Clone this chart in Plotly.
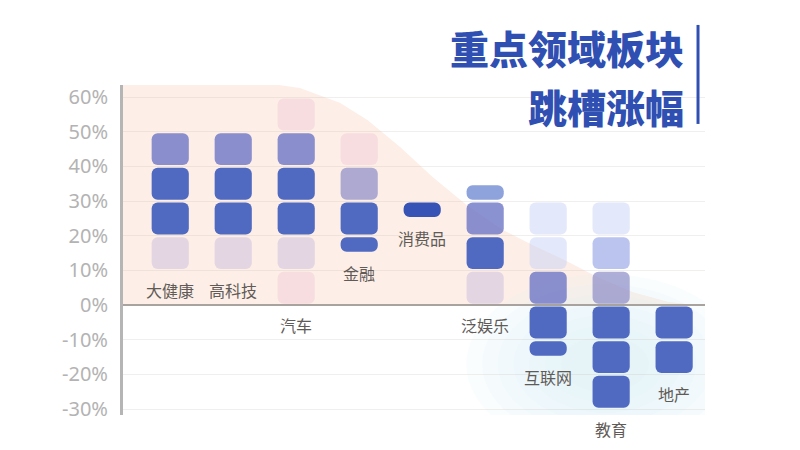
import plotly.graph_objects as go

# categories along the x axis
categories = ['大健康', '高科技', '汽车', '金融', '消费品', '泛娱乐', '互联网', '教育', '地产']

# one entry per rounded block: category index, low %, high %, shade
seg_cat = [0, 0, 0, 0,
           1, 1, 1, 1,
           2, 2, 2, 2, 2, 2,
           3, 3, 3, 3,
           4,
           5, 5, 5, 5,
           6, 6, 6, 6, 6,
           7, 7, 7, 7, 7, 7,
           8, 8]
seg_low = [10, 20, 30, 40,
           10, 20, 30, 40,
           0, 10, 20, 30, 40, 50,
           15, 20, 30, 40,
           25,
           0, 10, 20, 30,
           -15, -10, 0, 10, 20,
           -30, -20, -10, 0, 10, 20,
           -20, -10]
seg_high = [20, 30, 40, 50,
            20, 30, 40, 50,
            10, 20, 30, 40, 50, 60,
            20, 30, 40, 50,
            30,
            10, 20, 30, 35,
            -10, 0, 10, 20, 30,
            -20, -10, 0, 10, 20, 30,
            -10, 0]
seg_tone = ['pale', 'dark', 'dark', 'mid',
            'pale', 'dark', 'dark', 'mid',
            'faint', 'pale', 'dark', 'dark', 'mid', 'faint',
            'dark', 'dark', 'soft', 'faint',
            'deep',
            'pale', 'dark', 'mid', 'blue',
            'dark', 'dark', 'mid', 'ice', 'ice',
            'dark', 'dark', 'dark', 'soft', 'light', 'ice',
            'dark', 'dark']

y_ticks = [-30, -20, -10, 0, 10, 20, 30, 40, 50, 60]
y_tick_text = [f'{v}%' for v in y_ticks]

title_lines = ['重点领域板块', '跳槽涨幅']

tone_colors = {
    'deep': '#3753b6',
    'dark': '#5069c1',
    'mid': 'rgba(100,110,195,0.75)',
    'blue': '#8ea2dc',
    'soft': 'rgba(140,140,200,0.7)',
    'light': 'rgba(150,165,230,0.65)',
    'pale': 'rgba(190,175,220,0.4)',
    'faint': 'rgba(240,200,215,0.45)',
    'ice': 'rgba(200,210,245,0.5)',
}

# decorative peach backdrop edge (x in category units, y in %)
backdrop_edge = [(-0.75, 63.7), (0.0, 64.4), (0.48, 64.6), (1.43, 64.3), (2.06, 62.6),
                 (2.70, 58.3), (3.13, 53.4), (3.65, 45.6), (4.17, 36.9), (4.71, 28.8),
                 (5.29, 21.6), (5.76, 17.3), (6.33, 12.4), (6.78, 8.1), (7.35, 3.7),
                 (7.9, 1.0), (8.3, 0)]

Y_MIN, Y_MAX = -31.7, 63.5
GAP = 0.4
bases = [lo + GAP for lo in seg_low]
heights = [hi - lo - 2 * GAP for lo, hi in zip(seg_low, seg_high)]
colors = [tone_colors[t] for t in seg_tone]

fig = go.Figure()
fig.add_trace(go.Bar(
    x=seg_cat, y=heights, base=bases, width=0.59,
    marker=dict(color=colors, cornerradius=6, line=dict(width=0)),
    hoverinfo='skip', showlegend=False,
))

shapes = []
path = 'M ' + ' L '.join(f'{x},{y}' for x, y in backdrop_edge) + ' L -0.75,0 Z'
shapes.append(dict(type='path', path=path, xref='x', yref='y', layer='below',
                   fillcolor='#fdefe7', line=dict(width=0)))

# soft blue glow in the lower right
for k in range(7):
    rx = 2.2 - 0.25 * k
    ry = 26 - 3 * k
    shapes.append(dict(type='circle', xref='x', yref='y', layer='below',
                       x0=6.9 - rx, x1=6.9 + rx, y0=-17 - ry, y1=-17 + ry,
                       fillcolor='rgba(222,240,251,0.14)', line=dict(width=0)))

# vertical bar beside the title
shapes.append(dict(type='line', xref='paper', yref='paper', x0=0.988, x1=0.988,
                   y0=0.882, y1=1.182, line=dict(color='#2f4fb2', width=3)))

annotations = []
for i, name in enumerate(categories):
    lows = [lo for c, lo in zip(seg_cat, seg_low) if c == i]
    label_y = min(lows) - 5.7
    # 'y domain' keeps labels visible even below the axis range
    annotations.append(dict(x=i, y=(label_y - Y_MIN) / (Y_MAX - Y_MIN), yref='y domain',
                            xanchor='center', yanchor='middle',
                            text=name, showarrow=False,
                            font=dict(size=16, color='#615b58', family='Noto Sans CJK SC')))

for line, ypos in zip(title_lines, [1.115, 0.936]):
    annotations.append(dict(x=0.966, y=ypos, xref='paper', yref='paper', text=line,
                            xanchor='right', yanchor='middle', showarrow=False,
                            borderpad=0,
                            font=dict(size=39, color='#2f4fb2', family='Noto Sans CJK SC',
                                      weight=900)))

# page body adds an 8px offset, so margins are shifted to compensate
fig.update_layout(
    width=800, height=450,
    margin=dict(l=115, r=103, t=77, b=43),
    paper_bgcolor='white', plot_bgcolor='white',
    barmode='overlay',
    shapes=shapes, annotations=annotations,
    font=dict(family='Noto Sans CJK SC'),
    xaxis=dict(range=[-0.75, 8.49], showgrid=False, showticklabels=False,
               zeroline=False, showline=False),
    yaxis=dict(range=[Y_MIN, Y_MAX], tickvals=y_ticks, ticktext=y_tick_text,
               tickfont=dict(size=20, color='#b3b3b3', family='Noto Sans'),
               showline=True, linecolor='#b5b5b5', linewidth=3,
               gridcolor='rgba(190,180,175,0.22)', gridwidth=1,
               zeroline=True, zerolinecolor='#a9a3a0', zerolinewidth=2,
               ticklabelstandoff=8),
)

fig.write_html("out.html")
